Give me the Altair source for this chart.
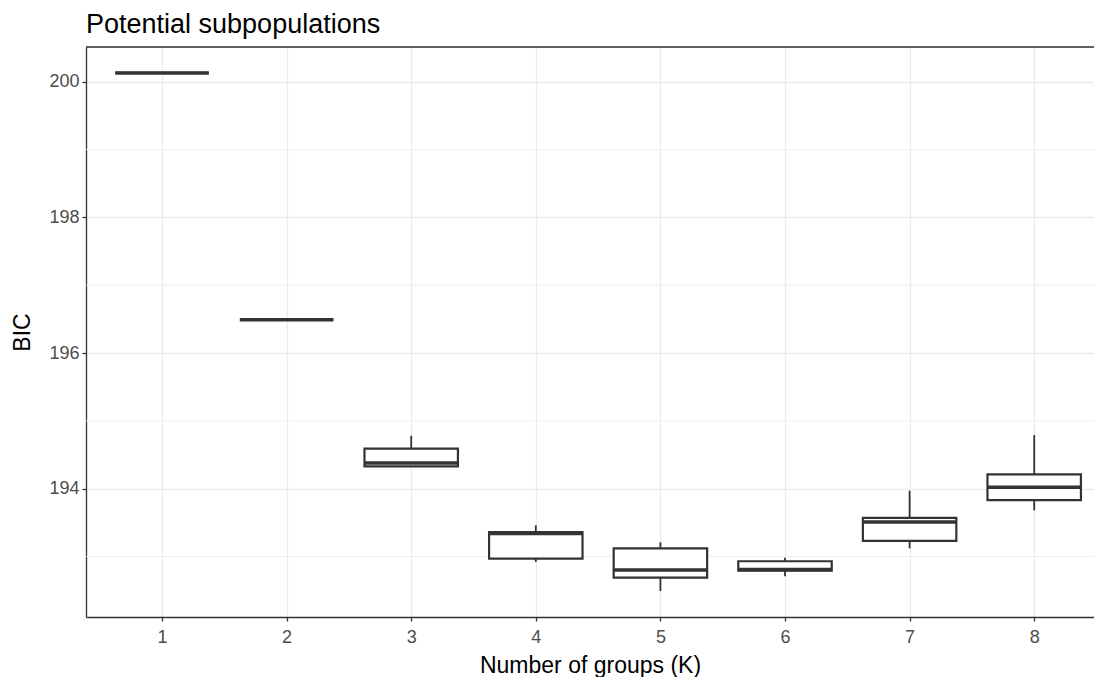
import altair as alt
import pandas as pd

# Data
k = [1, 2, 3, 4, 5, 6, 7, 8]
ymin = [200.13, 196.49, 194.33, 192.92, 192.49, 192.71, 193.12, 193.68]
q1 = [200.13, 196.49, 194.33, 192.97, 192.69, 192.79, 193.23, 193.83]
median = [200.13, 196.49, 194.38, 193.34, 192.80, 192.81, 193.51, 194.02]
q3 = [200.13, 196.49, 194.59, 193.36, 193.12, 192.93, 193.57, 194.21]
ymax = [200.13, 196.49, 194.78, 193.46, 193.21, 192.98, 193.97, 194.79]

y_ticks = [194, 196, 198, 200]
y_minor = [193, 195, 197, 199]
x_ticks = k

df = pd.DataFrame({"k": k, "ymin": ymin, "q1": q1, "median": median, "q3": q3, "ymax": ymax})
minor_df = pd.DataFrame({"y": y_minor})

W, H = 1008, 570
FONT = "Liberation Sans"
DARK = "#333333"

lo, hi = min(ymin), max(ymax)
pad = (hi - lo) * 0.05
yscale = alt.Scale(domain=[lo - pad, hi + pad], nice=False, zero=False)
xscale = alt.Scale(domain=[0.39, 0.39 + W / 124.6], nice=False, zero=False)

xaxis = alt.Axis(
    values=x_ticks, format="d", grid=True, gridColor="#EBEBEB", gridWidth=1.3,
    domain=True, domainColor=DARK, domainWidth=1.3,
    ticks=True, tickColor=DARK, tickSize=4, tickWidth=1.3,
    labelFont=FONT, labelFontSize=18, labelColor="#4D4D4D", labelPadding=7,
    title="Number of groups (K)", titleFont=FONT, titleFontSize=23,
    titleFontWeight="normal", titleColor="black", titlePadding=8,
)
yaxis = alt.Axis(
    values=y_ticks, format="d", grid=True, gridColor="#EBEBEB", gridWidth=1.3,
    domain=True, domainColor=DARK, domainWidth=1.3,
    ticks=True, tickColor=DARK, tickSize=4, tickWidth=1.3,
    labelFont=FONT, labelFontSize=18, labelColor="#4D4D4D", labelPadding=3,
    title="BIC", titleFont=FONT, titleFontSize=23,
    titleFontWeight="normal", titleColor="black", titlePadding=14,
)

base = alt.Chart(df).transform_calculate(
    xl="datum.k - 0.375", xr="datum.k + 0.375"
)

minor = alt.Chart(minor_df).mark_rule(color="#EBEBEB", strokeWidth=0.8).encode(
    y=alt.Y("y:Q", scale=yscale, axis=yaxis)
)

whisk_hi = base.mark_rule(color=DARK, strokeWidth=1.8).encode(
    x=alt.X("k:Q", scale=xscale, axis=xaxis),
    y=alt.Y("q3:Q", scale=yscale, axis=yaxis),
    y2="ymax:Q",
)
whisk_lo = base.mark_rule(color=DARK, strokeWidth=1.8).encode(
    x=alt.X("k:Q", scale=xscale, axis=xaxis),
    y=alt.Y("ymin:Q", scale=yscale, axis=yaxis),
    y2="q1:Q",
)
box = base.mark_bar(fill="white", stroke=DARK, strokeWidth=2.2).encode(
    x=alt.X("xl:Q", scale=xscale, axis=xaxis),
    x2="xr:Q",
    y=alt.Y("q1:Q", scale=yscale, axis=yaxis),
    y2="q3:Q",
)
med = base.mark_rule(color=DARK, strokeWidth=3.5).encode(
    x=alt.X("xl:Q", scale=xscale, axis=xaxis),
    x2="xr:Q",
    y=alt.Y("median:Q", scale=yscale, axis=yaxis),
)
top_border = alt.Chart(pd.DataFrame({"a": [0]})).mark_rule(
    color=DARK, strokeWidth=1.3
).encode(x=alt.value(0), x2=alt.value(W), y=alt.value(0))

chart = alt.layer(minor, whisk_hi, whisk_lo, box, med, top_border).properties(
    width=W,
    height=H,
    title=alt.TitleParams(
        "Potential subpopulations", anchor="start", frame="group",
        font=FONT, fontSize=27, fontWeight="normal", color="black", offset=7,
    ),
    autosize=alt.AutoSizeParams(type="none"),
    padding={"left": 78, "top": 39, "right": 0, "bottom": 60},
).configure_view(stroke=None).configure(background="white")

chart.save("out.html", embed_options={"renderer": "svg", "actions": False})
